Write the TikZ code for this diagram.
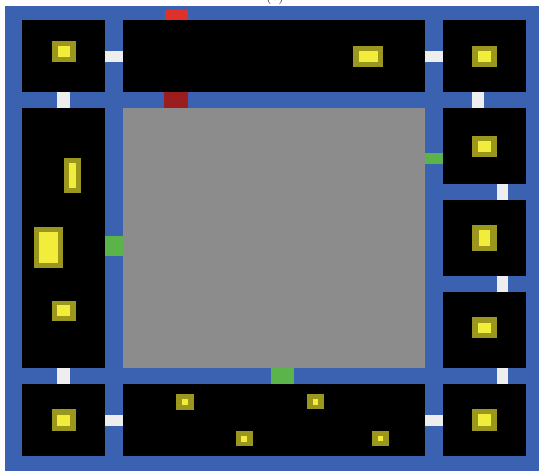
\documentclass[tikz,border=0pt]{standalone}
\usepackage{xcolor}
\definecolor{wallblue}{HTML}{3A62B0}
\definecolor{floorgray}{HTML}{8C8C8C}
\definecolor{doorwhite}{HTML}{EEEEEE}
\definecolor{lockred}{HTML}{E0302A}
\definecolor{darkred}{HTML}{9B1D1D}
\definecolor{goalgreen}{HTML}{5AB44A}
\definecolor{keyolive}{HTML}{9A961E}
\definecolor{keyyellow}{HTML}{F2EC3A}
\tikzset{
  wall/.style={fill=wallblue},
  room/.style={fill=black},
  floorarea/.style={fill=floorgray},
  opendoor/.style={fill=doorwhite},
  reddoor/.style={fill=lockred},
  darkdoor/.style={fill=darkred},
  greendoor/.style={fill=goalgreen},
  keyout/.style={fill=keyolive},
  keyin/.style={fill=keyyellow}
}
\newcommand{\keyobj}[8]{%
  \fill[keyout] (#1,#2) rectangle (#3,#4);
  \fill[keyin] (#5,#6) rectangle (#7,#8);}
\begin{document}
\begin{tikzpicture}[x=1pt,y=-1pt]
\useasboundingbox (0,0) rectangle (539,471);
\fill[white] (0,0) rectangle (539,471);
% caption, cut off at the top edge
\node[anchor=base,font=\fontsize{17}{17}\selectfont,inner sep=0pt] (cap) at (275,1) {(c)};
% walls
\fill[wall] (5,6) rectangle (539,471);
% top row
\fill[room] (22,20) rectangle (105,92);
\fill[room] (123,20) rectangle (425,92);
\fill[room] (443,20) rectangle (526,92);
% middle
\fill[room] (22,108) rectangle (105,368);
\fill[floorarea] (123,108) rectangle (425,368);
\fill[room] (443,108) rectangle (526,184);
\fill[room] (443,200) rectangle (526,276);
\fill[room] (443,292) rectangle (526,368);
% bottom row
\fill[room] (22,384) rectangle (105,456);
\fill[room] (123,384) rectangle (425,456);
\fill[room] (443,384) rectangle (526,456);
% white doors
\fill[opendoor] (105,51) rectangle (123,62);
\fill[opendoor] (425,51) rectangle (443,62);
\fill[opendoor] (57,92) rectangle (70,108);
\fill[opendoor] (472,92) rectangle (484,108);
\fill[opendoor] (497,184) rectangle (508,200);
\fill[opendoor] (497,276) rectangle (508,292);
\fill[opendoor] (497,368) rectangle (508,384);
\fill[opendoor] (57,368) rectangle (70,384);
\fill[opendoor] (105,415) rectangle (123,426);
\fill[opendoor] (425,415) rectangle (443,426);
% red doors
\fill[reddoor] (165,10) rectangle (188,20);
\fill[darkdoor] (164,92) rectangle (188,108);
% green doors
\fill[greendoor] (425,153) rectangle (443,164);
\fill[greendoor] (105,236) rectangle (123,256);
\fill[greendoor] (271,368) rectangle (294,384);
% objects
\keyobj{52}{41}{76}{62}{58}{46}{70}{57}
\keyobj{353}{46}{383}{67}{359}{51}{378}{62}
\keyobj{472}{46}{497}{67}{478}{51}{491}{62}
\keyobj{64}{158}{81}{193}{69}{163}{76}{188}
\keyobj{34}{227}{63}{268}{39}{232}{58}{263}
\keyobj{52}{301}{76}{321}{57}{305}{70}{316}
\keyobj{472}{136}{497}{157}{478}{141}{491}{152}
\keyobj{472}{225}{497}{251}{479}{230}{490}{246}
\keyobj{472}{317}{497}{338}{478}{323}{491}{333}
\keyobj{52}{409}{76}{431}{57}{415}{70}{426}
\keyobj{176}{394}{194}{410}{182}{399}{188}{405}
\keyobj{307}{394}{324}{409}{313}{399}{318}{405}
\keyobj{236}{431}{253}{446}{241}{436}{247}{442}
\keyobj{372}{431}{389}{446}{378}{436}{383}{441}
\keyobj{472}{409}{497}{431}{478}{414}{491}{426}
\end{tikzpicture}
\end{document}
